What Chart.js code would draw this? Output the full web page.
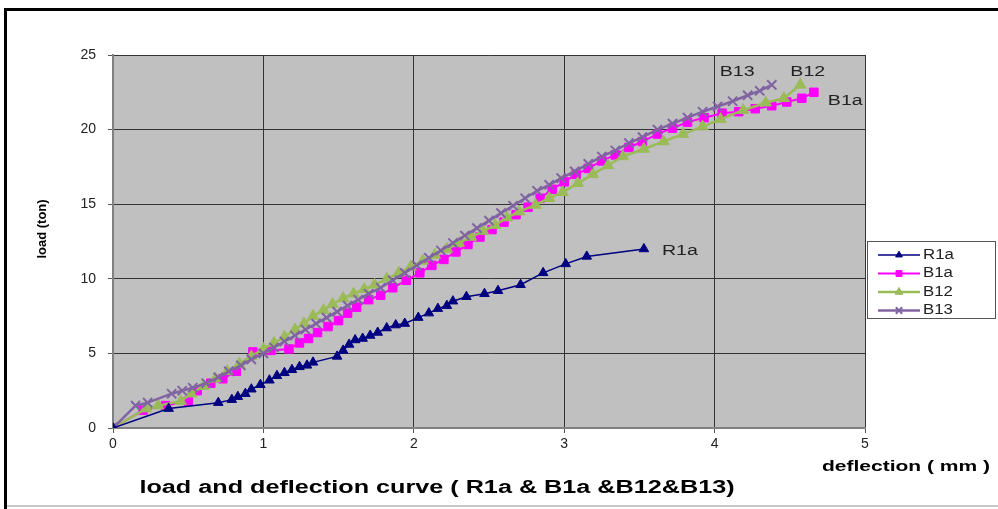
<!DOCTYPE html>
<html>
<head>
<meta charset="utf-8">
<script src="https://cdn.jsdelivr.net/npm/chart.js@4/dist/chart.umd.min.js"></script>
<style>
  html, body { margin: 0; padding: 0; background: #fff; overflow: hidden; }
  #wrap { width: 998px; height: 509px; position: relative; }
</style>
</head>
<body>
<div id="wrap"><canvas id="c" width="998" height="509"></canvas></div>
<script>
// Load (ton) against mid-span deflection (mm) for beams R1a, B1a, B12 and B13
const seriesNames = ['R1a', 'B1a', 'B12', 'B13'];

const r1aDeflection = [0, 0.37, 0.70, 0.79, 0.83, 0.88, 0.92, 0.98, 1.04, 1.09, 1.14, 1.19, 1.24, 1.29, 1.33,
  1.49, 1.53, 1.57, 1.61, 1.66, 1.71, 1.76, 1.82, 1.88, 1.94, 2.03, 2.10, 2.16, 2.22, 2.26,
  2.35, 2.47, 2.56, 2.71, 2.86, 3.01, 3.15, 3.53];
const r1aLoad = [0, 1.3, 1.7, 1.9, 2.1, 2.3, 2.6, 2.9, 3.2, 3.5, 3.7, 3.9, 4.1, 4.2, 4.4,
  4.8, 5.2, 5.6, 5.9, 6.0, 6.2, 6.4, 6.7, 6.9, 7.0, 7.4, 7.7, 8.0, 8.2, 8.5,
  8.8, 9.0, 9.2, 9.6, 10.4, 11.0, 11.5, 12.0];

const b1aDeflection = [0, 0.20, 0.35, 0.50, 0.56, 0.65, 0.73, 0.82, 0.93, 1.05, 1.17, 1.24, 1.30, 1.36, 1.43,
  1.50, 1.56, 1.62, 1.70, 1.78, 1.86, 1.95, 2.04, 2.12, 2.20, 2.28, 2.36, 2.44, 2.52, 2.60,
  2.68, 2.76, 2.84, 2.92, 3.00, 3.08, 3.16, 3.25, 3.34, 3.43, 3.52, 3.62, 3.72, 3.82, 3.93,
  4.05, 4.16, 4.27, 4.38, 4.48, 4.58, 4.66];
const b1aLoad = [0, 1.2, 1.5, 1.8, 2.5, 3.0, 3.3, 3.8, 5.1, 5.2, 5.3, 5.7, 6.0, 6.4, 6.8,
  7.2, 7.7, 8.1, 8.6, 8.9, 9.4, 9.9, 10.4, 10.9, 11.3, 11.8, 12.3, 12.8, 13.3, 13.8,
  14.3, 14.8, 15.4, 16.0, 16.5, 17.0, 17.4, 17.9, 18.3, 18.8, 19.2, 19.7, 20.1, 20.5, 20.8,
  21.1, 21.2, 21.4, 21.6, 21.85, 22.1, 22.5];

const b12Deflection = [0, 0.22, 0.30, 0.45, 0.52, 0.60, 0.68, 0.76, 0.84, 0.92, 1.00, 1.07, 1.14, 1.21, 1.27,
  1.33, 1.40, 1.46, 1.53, 1.60, 1.67, 1.74, 1.82, 1.90, 1.98, 2.06, 2.14, 2.22, 2.30, 2.38,
  2.46, 2.54, 2.62, 2.70, 2.81, 2.90, 2.99, 3.09, 3.19, 3.29, 3.39, 3.53, 3.66, 3.79, 3.92,
  4.04, 4.19, 4.34, 4.46, 4.57];
const b12Load = [0, 1.3, 1.5, 1.8, 2.3, 2.8, 3.3, 3.8, 4.3, 4.8, 5.3, 5.7, 6.1, 6.6, 7.0,
  7.5, 7.9, 8.3, 8.7, 9.0, 9.3, 9.6, 10.0, 10.4, 10.8, 11.2, 11.6, 12.0, 12.4, 12.8,
  13.2, 13.6, 14.1, 14.5, 14.95, 15.4, 15.8, 16.4, 17.0, 17.6, 18.2, 18.7, 19.2, 19.7, 20.2,
  20.7, 21.3, 21.8, 22.1, 23.0];

const b13Deflection = [0, 0.15, 0.23, 0.39, 0.46, 0.53, 0.62, 0.70, 0.77, 0.85, 0.92, 1.00, 1.07, 1.14, 1.21,
  1.28, 1.35, 1.42, 1.49, 1.56, 1.63, 1.70, 1.78, 1.86, 1.94, 2.02, 2.10, 2.18, 2.26, 2.34,
  2.42, 2.50, 2.58, 2.66, 2.74, 2.82, 2.90, 2.98, 3.07, 3.16, 3.25, 3.34, 3.43, 3.52, 3.62,
  3.72, 3.82, 3.92, 4.02, 4.12, 4.22, 4.30, 4.38];
const b13Load = [0, 1.5, 1.7, 2.3, 2.5, 2.7, 3.0, 3.4, 3.8, 4.2, 4.6, 5.0, 5.4, 5.8, 6.2,
  6.6, 7.0, 7.4, 7.8, 8.2, 8.6, 9.0, 9.4, 9.9, 10.4, 10.9, 11.4, 11.9, 12.4, 12.9,
  13.4, 13.9, 14.4, 14.9, 15.4, 15.9, 16.3, 16.75, 17.2, 17.7, 18.2, 18.6, 19.1, 19.5, 20.0,
  20.4, 20.8, 21.2, 21.55, 21.9, 22.3, 22.6, 23.0];

const xTickValues = [0, 1, 2, 3, 4, 5];
const yTickValues = [0, 5, 10, 15, 20, 25];

const chartTitle = 'load and deflection curve ( R1a & B1a &B12&B13)';
const xAxisTitle = 'deflection ( mm )';
const yAxisTitle = 'load (ton)';

function toPoints(xs, ys) {
  return xs.map((x, i) => ({ x: x, y: ys[i] }));
}

const FONT = '"Liberation Sans", Arial, sans-serif';

// Writes a line of text widened horizontally by factor sx
function drawWide(ctx, text, x, y, align, sx) {
  const w = ctx.measureText(text).width * sx;
  let left = x;
  if (align === 'center') left = x - w / 2;
  else if (align === 'right') left = x - w;
  ctx.save();
  ctx.textAlign = 'left';
  ctx.translate(left, y);
  ctx.scale(sx, 1);
  ctx.fillText(text, 0, 0);
  ctx.restore();
}

// Frame, plot background and free-standing captions
const decorPlugin = {
  id: 'decor',
  beforeDraw(chart) {
    const { ctx, chartArea: a } = chart;
    ctx.save();
    ctx.fillStyle = '#ffffff';
    ctx.fillRect(0, 0, chart.width, chart.height);
    ctx.fillStyle = '#c0c0c0';
    ctx.fillRect(a.left, a.top, a.right - a.left, a.bottom - a.top);
    ctx.restore();
  },
  afterDraw(chart) {
    const { ctx } = chart;
    ctx.save();
    // outer frame
    ctx.fillStyle = '#000000';
    ctx.fillRect(4, 8, 994, 3);
    ctx.fillRect(4, 8, 3, 501);
    ctx.fillStyle = '#c8c8c8';
    ctx.fillRect(7, 505, 991, 2);

    ctx.fillStyle = '#000000';
    ctx.textBaseline = 'middle';
    ctx.font = 'bold 18px ' + FONT;
    drawWide(ctx, chartTitle, 437, 488, 'center', 1.4);

    ctx.font = 'bold 14px ' + FONT;
    drawWide(ctx, xAxisTitle, 990, 467, 'right', 1.5);

    ctx.font = 'bold 13px ' + FONT;
    ctx.translate(42, 229);
    ctx.rotate(-Math.PI / 2);
    ctx.textAlign = 'center';
    ctx.fillText(yAxisTitle, 0, 0);
    ctx.restore();
  }
};

// Series names written beside the last point of each curve
const endLabelOffsets = { R1a: [18, 2], B1a: [14, 9], B12: [-10, -13], B13: [-52, -13] };
const endLabelPlugin = {
  id: 'endLabels',
  afterDatasetsDraw(chart) {
    const { ctx } = chart;
    const xs = chart.scales.x, ys = chart.scales.y;
    ctx.save();
    ctx.font = '14px ' + FONT;
    ctx.fillStyle = '#222222';
    ctx.textBaseline = 'middle';
    chart.data.datasets.forEach((ds) => {
      const last = ds.data[ds.data.length - 1];
      const off = endLabelOffsets[ds.label];
      drawWide(ctx, ds.label, xs.getPixelForValue(last.x) + off[0], ys.getPixelForValue(last.y) + off[1], 'left', 1.4);
    });
    ctx.restore();
  }
};

// Boxed legend on the right: line sample with marker, then the series name
const legendBoxPlugin = {
  id: 'legendBox',
  afterDraw(chart) {
    const { ctx } = chart;
    const box = { x: 867, y: 241, w: 129, h: 78 };
    ctx.save();
    ctx.fillStyle = '#ffffff';
    ctx.fillRect(box.x, box.y, box.w, box.h);
    ctx.strokeStyle = '#555555';
    ctx.lineWidth = 1;
    ctx.strokeRect(box.x + 0.5, box.y + 0.5, box.w - 1, box.h - 1);
    ctx.font = '14px ' + FONT;
    ctx.textBaseline = 'middle';
    chart.data.datasets.forEach((ds, i) => {
      const y = box.y + 14 + i * 18.5;
      ctx.strokeStyle = ds.borderColor;
      ctx.lineWidth = ds.borderWidth;
      ctx.beginPath();
      ctx.moveTo(878, y);
      ctx.lineTo(920, y);
      ctx.stroke();
      ctx.fillStyle = ds.pointBackgroundColor;
      ctx.strokeStyle = ds.pointBorderColor;
      ctx.lineWidth = ds.pointBorderWidth;
      Chart.helpers.drawPoint(ctx, {
        pointStyle: ds.pointStyle,
        rotation: 0,
        radius: ds.pointRadius * 0.7,
        borderWidth: ds.pointBorderWidth
      }, 899, y);
      ctx.fillStyle = '#222222';
      drawWide(ctx, ds.label, 923, y, 'left', 1.2);
    });
    ctx.restore();
  }
};

const datasets = [
  {
    label: seriesNames[0],
    data: toPoints(r1aDeflection, r1aLoad),
    borderColor: '#000080', borderWidth: 1.5,
    pointStyle: 'triangle', pointRadius: 5.5,
    pointBackgroundColor: '#000080', pointBorderColor: '#000080', pointBorderWidth: 1,
    order: 0
  },
  {
    label: seriesNames[1],
    data: toPoints(b1aDeflection, b1aLoad),
    borderColor: '#ff00ff', borderWidth: 2,
    pointStyle: 'rect', pointRadius: 6,
    pointBackgroundColor: '#ff00ff', pointBorderColor: '#ff00ff', pointBorderWidth: 1,
    order: 3
  },
  {
    label: seriesNames[2],
    data: toPoints(b12Deflection, b12Load),
    borderColor: '#9bbb59', borderWidth: 2.5,
    pointStyle: 'triangle', pointRadius: 6.5,
    pointBackgroundColor: '#9bbb59', pointBorderColor: '#9bbb59', pointBorderWidth: 1,
    order: 2
  },
  {
    label: seriesNames[3],
    data: toPoints(b13Deflection, b13Load),
    borderColor: '#8064a2', borderWidth: 2.5,
    pointStyle: 'crossRot', pointRadius: 6.5,
    pointBackgroundColor: '#8064a2', pointBorderColor: '#8064a2', pointBorderWidth: 2,
    order: 1
  }
];

new Chart(document.getElementById('c'), {
  type: 'line',
  data: { datasets: datasets },
  options: {
    responsive: false,
    animation: false,
    devicePixelRatio: 1,
    layout: { padding: { left: 0, top: 55, right: 133, bottom: 0 } },
    elements: { line: { tension: 0, fill: false } },
    plugins: {
      legend: { display: false },
      title: { display: false },
      tooltip: { enabled: false }
    },
    scales: {
      x: {
        type: 'linear',
        min: xTickValues[0],
        max: xTickValues[xTickValues.length - 1],
        afterFit(scale) { scale.height = 81; },
        afterBuildTicks(scale) { scale.ticks = xTickValues.map(v => ({ value: v })); },
        grid: { color: '#333333', lineWidth: 1, tickLength: 5, tickColor: '#555555' },
        border: { color: '#808080', width: 2 },
        ticks: { font: { family: FONT, size: 14 }, color: '#222222', padding: 3 }
      },
      y: {
        type: 'linear',
        min: yTickValues[0],
        max: yTickValues[yTickValues.length - 1],
        afterFit(scale) { scale.width = 113; },
        afterBuildTicks(scale) { scale.ticks = yTickValues.map(v => ({ value: v })); },
        grid: { color: '#333333', lineWidth: 1, tickLength: 5, tickColor: '#555555' },
        border: { color: '#808080', width: 2 },
        ticks: { font: { family: FONT, size: 14 }, color: '#222222', padding: 12 }
      }
    }
  },
  plugins: [decorPlugin, endLabelPlugin, legendBoxPlugin]
});
</script>
</body>
</html>
